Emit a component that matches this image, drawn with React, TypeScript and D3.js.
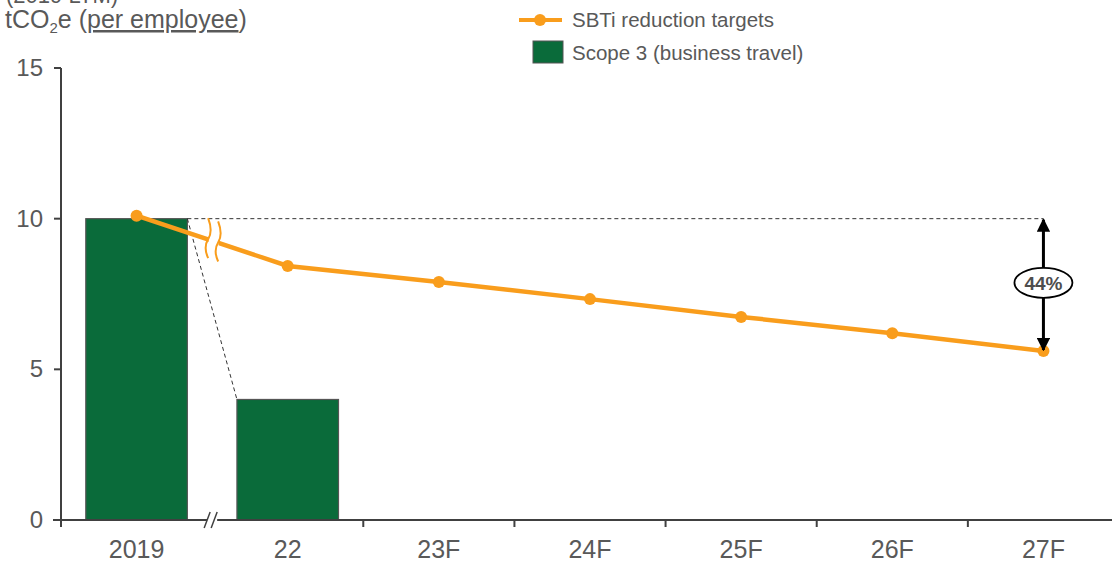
import React from "react";
import * as d3 from "d3";

const categories = ["2019", "22", "23F", "24F", "25F", "26F", "27F"];
const scopeCategories = ["2019", "22"];
const scopeValues = [10.0, 4.0];
const targetValues = [10.1, 8.43, 7.9, 7.33, 6.74, 6.2, 5.61];
const yTicks = [0, 5, 10, 15];
const baselineValue = 10.0;
const reductionLabel = "44%";

const W = 1112;
const H = 563;
const FONT = "'Liberation Sans', Arial, sans-serif";
const TEXT = "#595959";
const AXIS = "#404040";
const GREEN = "#0a6b3a";
const ORANGE = "#f99d1c";

const App = () => {
  const x = d3.scaleBand().domain(categories).range([61, 1119]);
  const y = d3.scaleLinear().domain([0, 15]).range([520, 68]);
  const bw = x.bandwidth() * 0.672;
  const cx = (c: string) => (x(c) as number) + x.bandwidth() / 2;

  const line = d3
    .line<number>()
    .x((d, i) => cx(categories[i]))
    .y((d) => y(d));

  // axis break sits on the boundary between 2019 and 22
  const breakX = x("22") as number;
  const p0 = [cx(categories[0]), y(targetValues[0])];
  const p1 = [cx(categories[1]), y(targetValues[1])];
  const lineYAt = (xx: number) =>
    p0[1] + ((xx - p0[0]) / (p1[0] - p0[0])) * (p1[1] - p0[1]);
  const bx1 = breakX - 5;
  const bx2 = breakX + 5;

  const squiggle = (xx: number) => {
    const yy = lineYAt(xx);
    return `M${xx + 1},${yy - 21} Q${xx + 6},${yy - 8} ${xx + 1},${yy} Q${xx - 4},${yy + 8} ${xx + 1},${yy + 19}`;
  };

  const bar2019Right = cx("2019") + bw / 2;
  const bar22Left = cx("22") - bw / 2;
  const lastX = cx(categories[categories.length - 1]);
  const arrowTop = y(baselineValue);
  const arrowBottom = y(targetValues[targetValues.length - 1]);
  const labelY = (arrowTop + arrowBottom) / 2 - 2;

  return (
    <svg
      width={W}
      height={H}
      style={{ position: "absolute", left: 0, top: 0, background: "#fff" }}
      fontFamily={FONT}
    >
      <defs>
        <marker id="ah" viewBox="0 0 10 10" refX="9" refY="5" markerWidth="4.5" markerHeight="4.5" orient="auto-start-reverse">
          <path d="M0,0 L10,5 L0,10 z" fill="#000" />
        </marker>
      </defs>

      {/* title, top line cropped as in the source slide */}
      <text x={6} y={3} fontSize={22} fill={TEXT}>(2019 LTM)</text>
      <text x={5} y={28} fontSize={25} fill={TEXT}>
        tCO<tspan fontSize={15} dy={5}>2</tspan>
        <tspan dy={-5}>e (</tspan>
        <tspan textDecoration="underline">per employee</tspan>)
      </text>

      {/* legend */}
      <line x1={519} x2={562} y1={20} y2={20} stroke={ORANGE} strokeWidth={4} />
      <circle cx={540} cy={20} r={6} fill={ORANGE} />
      <text x={572} y={27} fontSize={20.5} fill={TEXT}>SBTi reduction targets</text>
      <rect x={533} y={41} width={30} height={22} fill={GREEN} stroke="#555" strokeWidth={1} />
      <text x={572} y={60} fontSize={20.5} fill={TEXT}>Scope 3 (business travel)</text>

      {/* y axis */}
      <line x1={61} x2={61} y1={y(15)} y2={527} stroke={AXIS} strokeWidth={2} />
      {yTicks.map((t) => (
        <g key={t}>
          <line x1={54} x2={61} y1={y(t)} y2={y(t)} stroke={AXIS} strokeWidth={2} />
          <text x={43} y={y(t) + 8} textAnchor="end" fontSize={24} fill={TEXT}>{t}</text>
        </g>
      ))}

      {/* bars */}
      {scopeCategories.map((c, i) => (
        <rect
          key={c}
          x={cx(c) - bw / 2}
          y={y(scopeValues[i])}
          width={bw}
          height={y(0) - y(scopeValues[i])}
          fill={GREEN}
          stroke="#555"
          strokeWidth={1.2}
        />
      ))}

      {/* x axis */}
      <line x1={53} x2={W} y1={y(0)} y2={y(0)} stroke={AXIS} strokeWidth={2} />
      {categories.slice(2).map((c) => (
        <line key={c} x1={x(c) as number} x2={x(c) as number} y1={y(0)} y2={y(0) + 7} stroke={AXIS} strokeWidth={2} />
      ))}
      {categories.map((c) => (
        <text key={c} x={cx(c)} y={558} textAnchor="middle" fontSize={25} fill={TEXT}>{c}</text>
      ))}
      {/* axis break */}
      <rect x={breakX - 5} y={y(0) - 3} width={10} height={6} fill="#fff" />
      <line x1={breakX - 8} x2={breakX - 2} y1={y(0) + 8} y2={y(0) - 8} stroke={AXIS} strokeWidth={1.5} />
      <line x1={breakX - 1} x2={breakX + 5} y1={y(0) + 8} y2={y(0) - 8} stroke={AXIS} strokeWidth={1.5} />

      {/* dashed guides */}
      <line x1={bar2019Right} x2={lastX} y1={y(baselineValue)} y2={y(baselineValue)} stroke="#333" strokeWidth={1} strokeDasharray="4,3" />
      <line x1={bar2019Right} x2={bar22Left} y1={y(scopeValues[0])} y2={y(scopeValues[1])} stroke="#333" strokeWidth={1} strokeDasharray="4,3" />

      {/* target line */}
      <path d={line(targetValues) || ""} fill="none" stroke={ORANGE} strokeWidth={4.5} />
      {/* line break */}
      <polygon
        points={`${bx1 + 2},${lineYAt(bx1) - 8} ${bx2 + 2},${lineYAt(bx2) - 8} ${bx2 + 1},${lineYAt(bx2) + 8} ${bx1 + 1},${lineYAt(bx1) + 8}`}
        fill="#fff"
      />
      <path d={squiggle(bx1)} fill="none" stroke={ORANGE} strokeWidth={2} />
      <path d={squiggle(bx2)} fill="none" stroke={ORANGE} strokeWidth={2} />
      {targetValues.map((v, i) => (
        <circle key={categories[i]} cx={cx(categories[i])} cy={y(v)} r={6} fill={ORANGE} />
      ))}

      {/* reduction arrow */}
      <line x1={lastX} x2={lastX} y1={arrowTop + 1} y2={arrowBottom - 1} stroke="#000" strokeWidth={3} markerStart="url(#ah)" markerEnd="url(#ah)" />
      <ellipse cx={lastX} cy={labelY} rx={29} ry={15} fill="#fff" stroke="#000" strokeWidth={1.8} />
      <text x={lastX} y={labelY + 7} textAnchor="middle" fontSize={19} fontWeight="bold" fill="#4d4d4d">{reductionLabel}</text>
    </svg>
  );
};

export default App;
